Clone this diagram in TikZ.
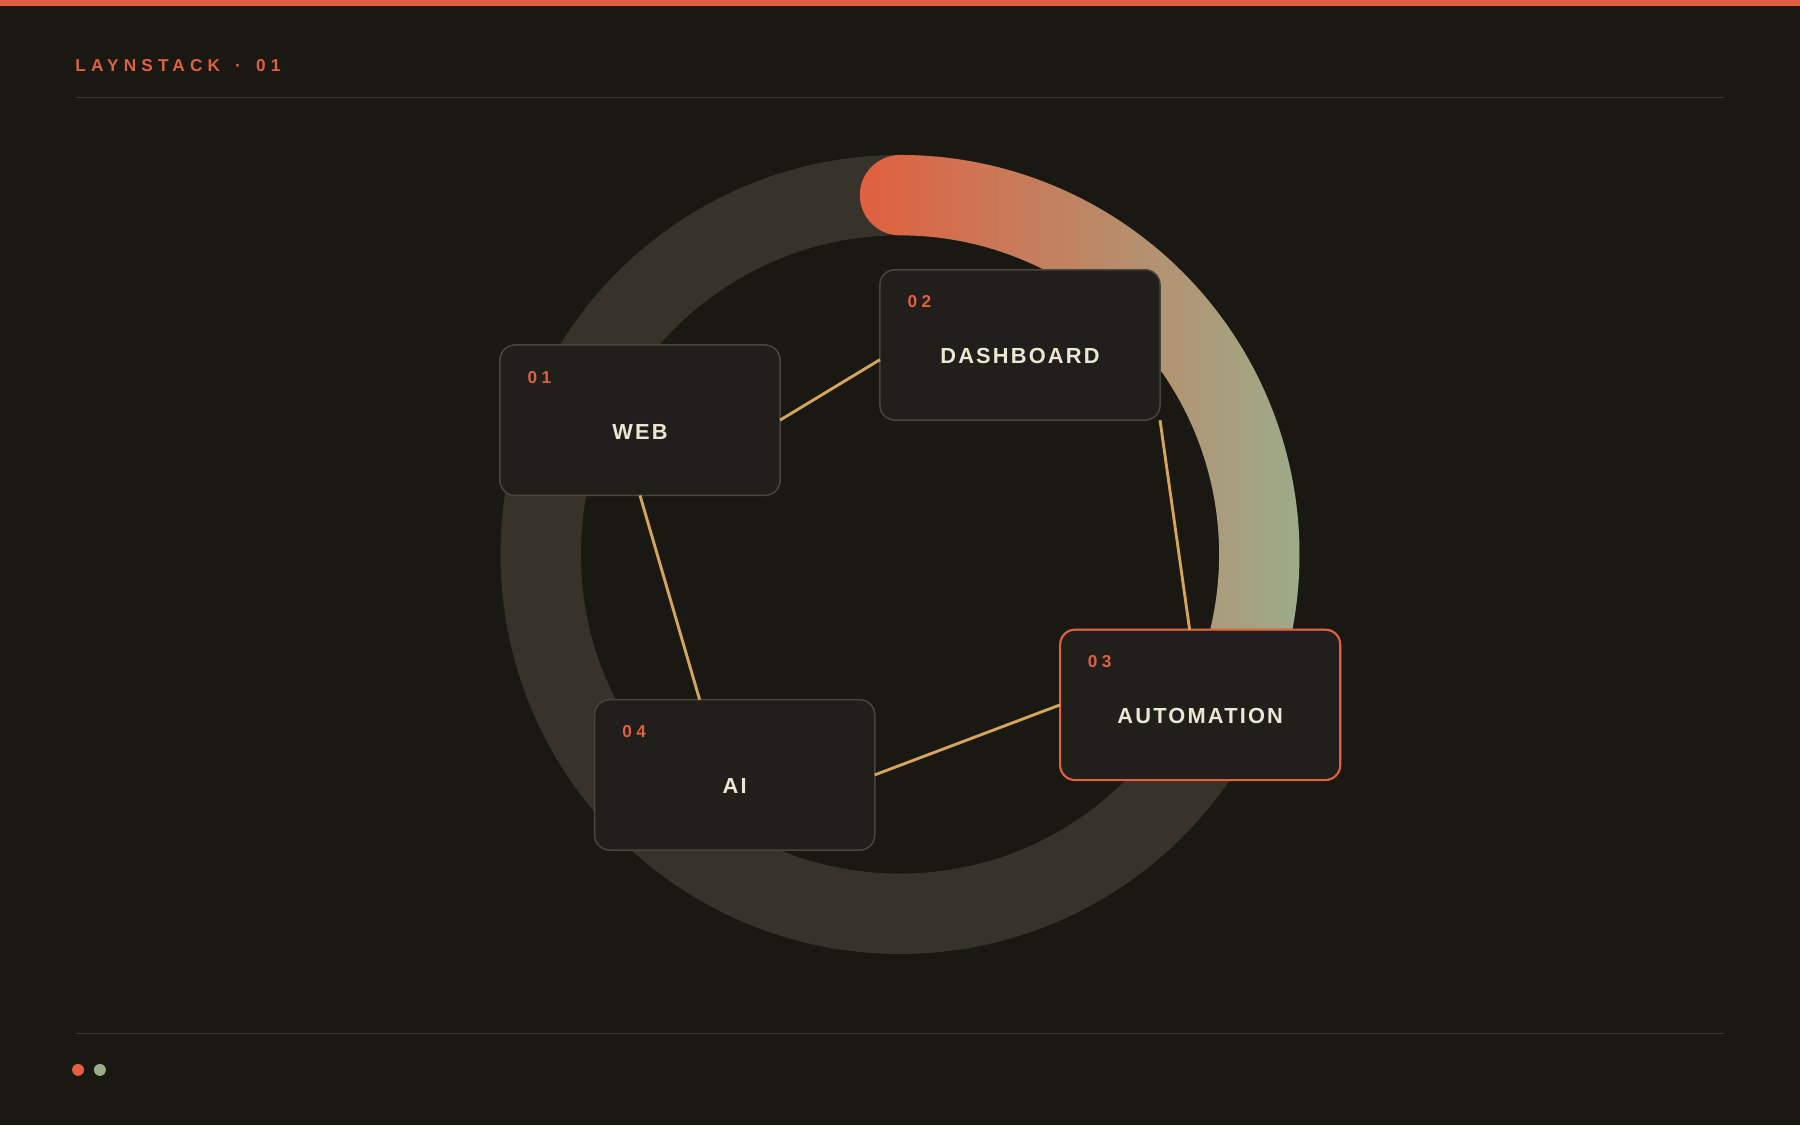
\documentclass[tikz,border=0pt]{standalone}
\usepackage{fontspec}
\usepackage{tikz}
\usetikzlibrary{calc}
\setmainfont{Liberation Sans}
\newfontfamily\headfont[LetterSpace=30]{Liberation Sans}
\newfontfamily\numfont[LetterSpace=25]{Liberation Sans}
\newfontfamily\cardfont[LetterSpace=10]{Liberation Sans}

\definecolor{bg}{HTML}{191813}
\definecolor{ringbg}{HTML}{38332A}
\definecolor{cardbg}{HTML}{201F1B}
\definecolor{cardline}{HTML}{4A453A}
\definecolor{accent}{HTML}{E0603F}
\definecolor{sage}{HTML}{9AAE8C}
\definecolor{gold}{HTML}{D4A55A}
\definecolor{cream}{HTML}{EEE6D4}
\definecolor{rule}{HTML}{3A352C}

\begin{document}
\begin{tikzpicture}
    [ x=1pt, y=-1pt,
      card/.style={draw=#1, fill=cardbg, line width=1.3pt, rounded corners=13pt,
                   minimum width=244pt, minimum height=131pt, inner sep=0pt, outer sep=0pt},
      cardnum/.style={text=accent, inner sep=0pt, anchor=west,
                      font=\numfont\bfseries\fontsize{15}{18}\selectfont},
      cardname/.style={text=cream, inner sep=0pt,
                       font=\cardfont\bfseries\fontsize{19}{23}\selectfont},
      link/.style={draw=gold, line width=2.5pt},
    ]
    \useasboundingbox (0,0) rectangle (1568,980);
    \fill[bg] (0,0) rectangle (1568,980);
    \fill[accent] (0,0) rectangle (1568,5);

    \node[anchor=base west, inner sep=0pt, text=accent,
          font=\headfont\bfseries\fontsize{15}{18}\selectfont]
        (title) at (65.5,62.4) {LAYNSTACK \hspace{4.5pt}· \hspace{4.5pt}01};
    \draw[rule, line width=1.2pt] (66,85) -- (1502,85);
    \draw[rule, line width=1.2pt] (66,900.5) -- (1502,900.5);
    \foreach \col / \dx in {accent/68, sage/87} {
        \fill[\col] (\dx,932) circle (5.2);
    }

    % ring and progress arc
    \begin{scope}[shift={(784,483)}, yscale=-1]
        \draw[ringbg, line width=70pt] (0,0) circle (313);
        \shade[left color=accent, right color=sage]
            (90:348) arc[start angle=90, end angle=-25, radius=348]
            arc[start angle=-25, end angle=-205, radius=35]
            arc[start angle=-25, end angle=90, radius=278]
            arc[start angle=270, end angle=90, radius=35] -- cycle;
    \end{scope}

    \foreach \nm / \cx / \cy / \num / \txt / \col in
        {web/557.5/366/01/WEB/cardline, dash/888.5/300.5/02/DASHBOARD/cardline,
         auto/1045.5/614/03/AUTOMATION/accent, ai/640/675/04/AI/cardline} {
        \node[card=\col] (\nm) at (\cx,\cy) {};
        \node[cardnum] (\nm-num) at ($(\nm.north west)+(24,28)$) {\num};
        \node[cardname] (\nm-name) at ($(\nm.center)+(0,10)$) {\txt};
    }
    \draw[accent, line width=1.8pt, rounded corners=13pt]
        (auto.north west) rectangle (auto.south east);

    \draw[link] (web.east) -- (dash.186);
    \draw[link] (dash.south east) -- (auto.98);
    \draw[link] (auto.west) -- (ai.east);
    \draw[link] (web.south) -- (ai.115);
\end{tikzpicture}
\end{document}
